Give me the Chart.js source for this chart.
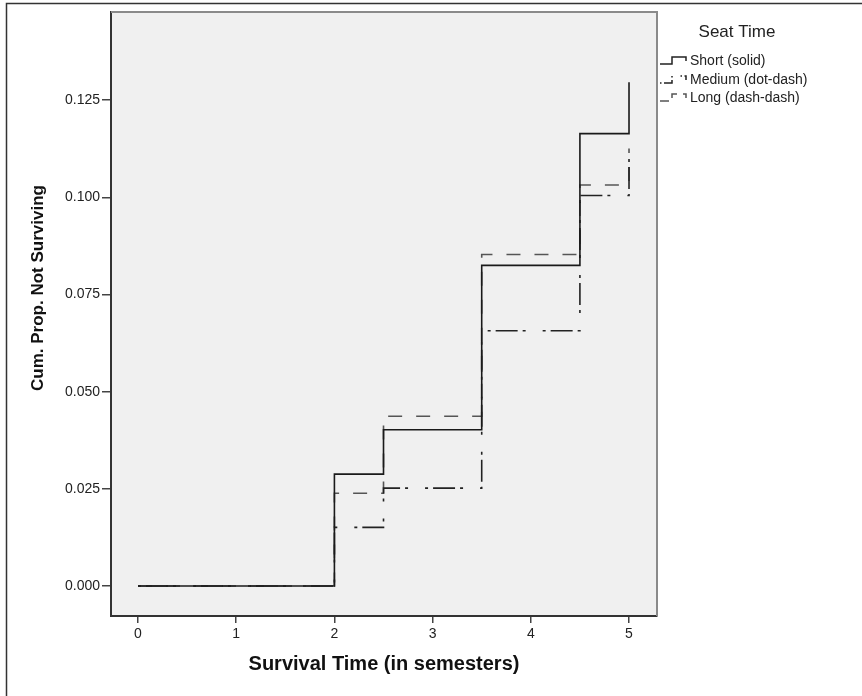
<!DOCTYPE html>
<html>
<head>
<meta charset="utf-8">
<title>Cumulative proportion not surviving by seat time</title>
<script src="https://cdn.jsdelivr.net/npm/chart.js@4"></script>
<style>
  html, body { margin: 0; padding: 0; background: #fff; }
  canvas { display: block; }
</style>
</head>
<body>
<canvas id="survivalChart" width="862" height="696"></canvas>
<script>
// survival times (semesters) where the curves step
const times = [0, 2, 2.5, 3.5, 4.5, 5];

// cumulative proportion not surviving, per seat time group
const shortProp = [0, 0.0288, 0.0402, 0.0825, 0.1164, 0.1296];
const mediumProp = [0, 0.0151, 0.0252, 0.0657, 0.1005, 0.1126];
const longProp = [0, 0.0239, 0.0437, 0.0853, 0.1032, 0.1126];

const groupLabels = ['Short (solid)', 'Medium (dot-dash)', 'Long (dash-dash)'];
const xTickValues = [0, 1, 2, 3, 4, 5];
const yTickValues = [0, 0.025, 0.05, 0.075, 0.1, 0.125];

const FONT = '"Liberation Sans", Arial, sans-serif';
const DASHED = [14, 14];
const DOT_DASH = [3, 5, 22, 5, 3, 17];

function toPoints(vals) {
    return times.map(function (t, i) { return { x: t, y: vals[i] }; });
}

// frame, plot background, top/right border
const backdrop = {
    id: 'backdrop',
    beforeDraw: function (chart) {
        const ctx = chart.ctx;
        const a = chart.chartArea;
        ctx.save();
        ctx.fillStyle = '#f0f0f0';
        ctx.fillRect(a.left, a.top, a.right - a.left, a.bottom - a.top);
        ctx.strokeStyle = '#333';
        ctx.lineWidth = 1.5;
        ctx.beginPath();
        ctx.moveTo(6.5, 696);
        ctx.lineTo(6.5, 3.5);
        ctx.lineTo(862, 3.5);
        ctx.stroke();
        ctx.restore();
    },
    afterDraw: function (chart) {
        const ctx = chart.ctx;
        const a = chart.chartArea;
        ctx.save();
        ctx.strokeStyle = '#8a8a8a';
        ctx.lineWidth = 2;
        ctx.beginPath();
        ctx.moveTo(a.left, a.top);
        ctx.lineTo(a.right, a.top);
        ctx.lineTo(a.right, a.bottom);
        ctx.stroke();

        // y axis title (sits a little above the plot centre, as in the original)
        ctx.fillStyle = '#111';
        ctx.font = 'bold 17px ' + FONT;
        ctx.textAlign = 'center';
        ctx.textBaseline = 'middle';
        ctx.translate(38, 288);
        ctx.rotate(-Math.PI / 2);
        ctx.fillText('Cum. Prop. Not Surviving', 0, 0);
        ctx.restore();
    }
};

// SPSS style legend with small step icons
const stepLegend = {
    id: 'stepLegend',
    afterDraw: function (chart) {
        const ctx = chart.ctx;
        const x0 = chart.chartArea.right + 3;
        const rows = [61, 80, 98];
        const dashes = [[], DOT_DASH.map(function (d) { return d / 2; }), [9, 6]];
        ctx.save();
        ctx.fillStyle = '#222';
        ctx.font = '17px ' + FONT;
        ctx.textAlign = 'center';
        ctx.textBaseline = 'middle';
        ctx.fillText('Seat Time', x0 + 77, 32);

        ctx.font = '14px ' + FONT;
        ctx.textAlign = 'left';
        groupLabels.forEach(function (label, i) {
            const y = rows[i];
            ctx.strokeStyle = i === 2 ? '#555' : '#222';
            ctx.lineWidth = 1.5;
            ctx.setLineDash(dashes[i]);
            ctx.beginPath();
            ctx.moveTo(x0, y + 3);
            ctx.lineTo(x0 + 12, y + 3);
            ctx.lineTo(x0 + 12, y - 4);
            ctx.lineTo(x0 + 26, y - 4);
            ctx.lineTo(x0 + 26, y);
            ctx.stroke();
            ctx.setLineDash([]);
            ctx.fillText(label, x0 + 30, y);
        });
        ctx.restore();
    }
};

new Chart(document.getElementById('survivalChart'), {
    type: 'scatter',
    data: {
        datasets: [
            {
                label: groupLabels[0],
                data: toPoints(shortProp),
                showLine: true,
                stepped: 'before',
                borderColor: '#1a1a1a',
                borderWidth: 1.6,
                pointRadius: 0
            },
            {
                label: groupLabels[1],
                data: toPoints(mediumProp),
                showLine: true,
                stepped: 'before',
                borderColor: '#222',
                borderWidth: 1.6,
                borderDash: DOT_DASH,
                pointRadius: 0
            },
            {
                label: groupLabels[2],
                data: toPoints(longProp),
                showLine: true,
                stepped: 'before',
                borderColor: '#555',
                borderWidth: 1.6,
                borderDash: DASHED,
                pointRadius: 0
            }
        ]
    },
    options: {
        responsive: false,
        animation: false,
        layout: { padding: { top: 12, right: 205, left: 0, bottom: 0 } },
        scales: {
            x: {
                type: 'linear',
                min: -0.275,
                max: 5.285,
                afterBuildTicks: function (scale) {
                    scale.ticks = xTickValues.map(function (v) { return { value: v }; });
                },
                afterFit: function (scale) { scale.height = 80; },
                grid: { drawOnChartArea: false, drawTicks: true, tickLength: 7, color: '#444', lineWidth: 1.5 },
                border: { display: true, color: '#333', width: 2 },
                ticks: {
                    color: '#222',
                    font: { family: FONT, size: 14 },
                    padding: 3,
                    maxRotation: 0,
                    callback: function (v) { return String(v); }
                },
                title: {
                    display: true,
                    text: 'Survival Time (in semesters)',
                    color: '#111',
                    font: { family: FONT, size: 20, weight: 'bold' },
                    padding: { top: 0, bottom: 20 }
                }
            },
            y: {
                type: 'linear',
                min: -0.0077,
                max: 0.1477,
                afterBuildTicks: function (scale) {
                    scale.ticks = yTickValues.map(function (v) { return { value: v }; });
                },
                afterFit: function (scale) { scale.width = 111; },
                grid: { drawOnChartArea: false, drawTicks: true, tickLength: 9, color: '#444', lineWidth: 1.5 },
                border: { display: true, color: '#333', width: 2 },
                ticks: {
                    color: '#222',
                    font: { family: FONT, size: 14 },
                    padding: 2,
                    callback: function (v) { return Number(v).toFixed(3); }
                }
            }
        },
        plugins: {
            legend: { display: false },
            tooltip: { enabled: false }
        }
    },
    plugins: [backdrop, stepLegend]
});
</script>
</body>
</html>
